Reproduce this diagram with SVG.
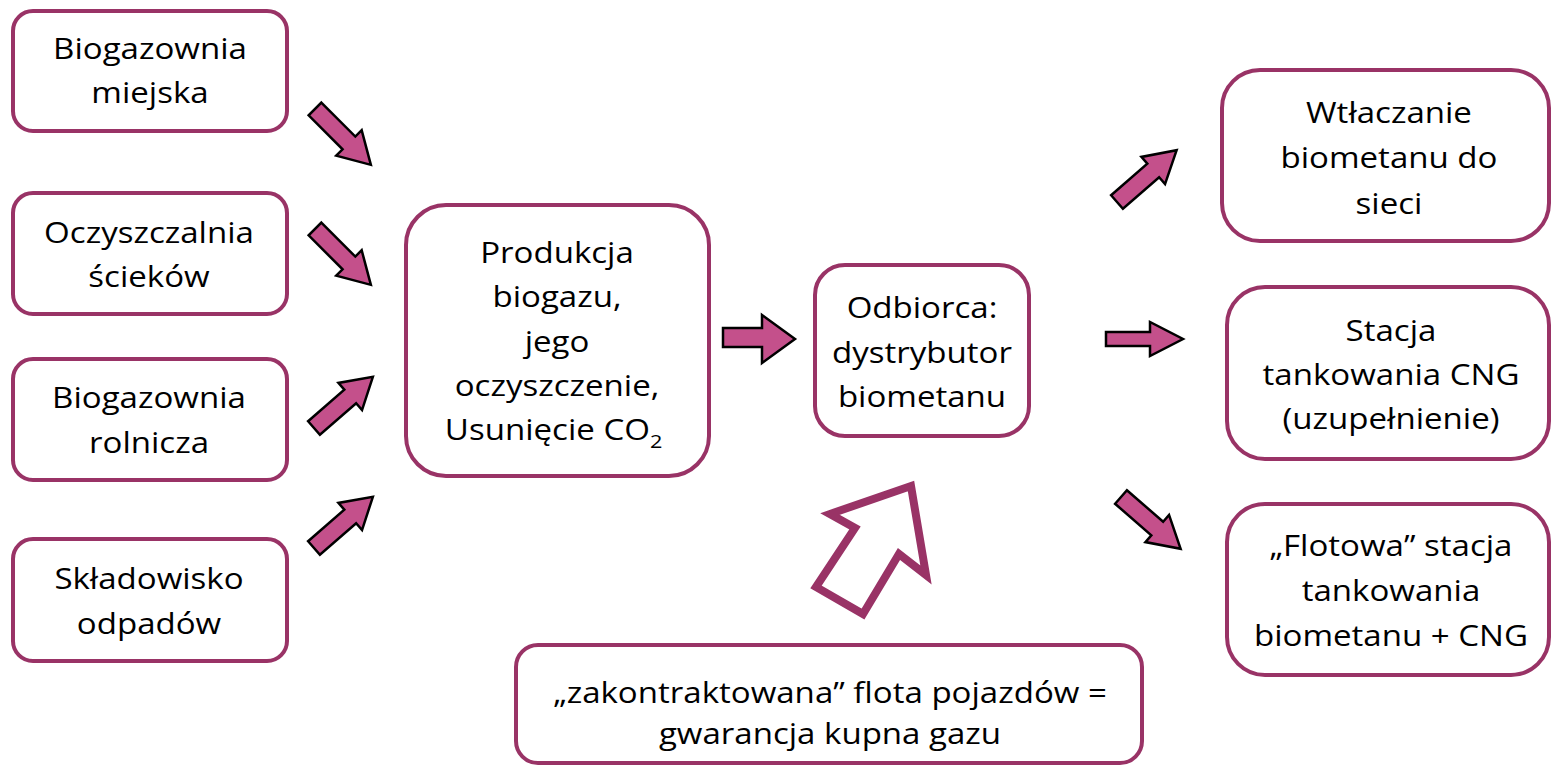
<svg xmlns="http://www.w3.org/2000/svg" width="1552" height="766" viewBox="0 0 1552 766">
<style>
.box{fill:#fff;stroke:#993366;stroke-width:4}
.t{font-family:"Open Sans","Liberation Sans",sans-serif;font-size:29px;fill:#000;text-anchor:middle}
.arr{fill:#C4508B;stroke:#000;stroke-width:2.5;stroke-linejoin:miter}
.hollow{fill:#fff;stroke:#993366;stroke-width:8;stroke-linejoin:miter}
</style>
<rect width="1552" height="766" fill="#fff"/>
<g id="n1"><rect class="box" x="13" y="11" width="274" height="120" rx="20"/>
<g transform="translate(150,0) scale(1.14,1)"><text class="t" x="0" y="59">Biogazownia</text><text class="t" x="0" y="103">miejska</text></g></g>
<g id="n2"><rect class="box" x="13" y="193" width="274" height="121" rx="20"/>
<g transform="translate(149,0) scale(1.14,1)"><text class="t" x="0" y="243">Oczyszczalnia</text><text class="t" x="0" y="287">ścieków</text></g></g>
<g id="n3"><rect class="box" x="13" y="359" width="274" height="121" rx="20"/>
<g transform="translate(149,0) scale(1.14,1)"><text class="t" x="0" y="408">Biogazownia</text><text class="t" x="0" y="453">rolnicza</text></g></g>
<g id="n4"><rect class="box" x="13" y="539" width="274" height="122" rx="20"/>
<g transform="translate(149,0) scale(1.14,1)"><text class="t" x="0" y="589">Składowisko</text><text class="t" x="0" y="634">odpadów</text></g></g>
<g id="n5"><rect class="box" x="406" y="205" width="303" height="271" rx="40"/>
<g transform="translate(557,0) scale(1.14,1)"><text class="t" x="0" y="263">Produkcja</text><text class="t" x="0" y="307">biogazu,</text><text class="t" x="0" y="352">jego</text><text class="t" x="0" y="396">oczyszczenie,</text><text class="t" x="-3" y="440">Usunięcie CO<tspan font-size="19" dy="8">2</tspan></text></g></g>
<g id="n6"><rect class="box" x="815" y="265" width="214" height="171" rx="30"/>
<g transform="translate(922,0) scale(1.14,1)"><text class="t" x="0" y="318">Odbiorca:</text><text class="t" x="0" y="363">dystrybutor</text><text class="t" x="0" y="407">biometanu</text></g></g>
<g id="n7"><rect class="box" x="1222" y="70" width="327" height="171" rx="38"/>
<g transform="translate(1389,0) scale(1.14,1)"><text class="t" x="0" y="123">Wtłaczanie</text><text class="t" x="0" y="168">biometanu do</text><text class="t" x="0" y="214">sieci</text></g></g>
<g id="n8"><rect class="box" x="1227" y="287" width="322" height="172" rx="38"/>
<g transform="translate(1391,0) scale(1.14,1)"><text class="t" x="0" y="341">Stacja</text><text class="t" x="0" y="385">tankowania CNG</text><text class="t" x="0" y="429">(uzupełnienie)</text></g></g>
<g id="n9"><rect class="box" x="1227" y="504" width="322" height="171" rx="38"/>
<g transform="translate(1391,0) scale(1.14,1)"><text class="t" x="0" y="556">„Flotowa” stacja</text><text class="t" x="0" y="601">tankowania</text><text class="t" x="0" y="646">biometanu + CNG</text></g></g>
<g id="n10"><rect class="box" x="516" y="645" width="626" height="118" rx="22"/>
<g transform="translate(830,0) scale(1.14,1)"><text class="t" x="0" y="703">„zakontraktowana” flota pojazdów =</text><text class="t" x="0" y="744">gwarancja kupna gazu</text></g></g>
<g id="connectors">
<polygon class="arr" transform="translate(315,109) rotate(45)" points="0,-9 48,-9 48,-18 79,0 48,18 48,9 0,9"/>
<polygon class="arr" transform="translate(315,229) rotate(45)" points="0,-9 48,-9 48,-18 79,0 48,18 48,9 0,9"/>
<polygon class="arr" transform="translate(314,428) rotate(-41)" points="0,-9 48,-9 48,-18 78,0 48,18 48,9 0,9"/>
<polygon class="arr" transform="translate(314,548) rotate(-41)" points="0,-9 48,-9 48,-18 78,0 48,18 48,9 0,9"/>
<polygon class="arr" points="723,328 762,328 762,315 795,339 762,363 762,347 723,347"/>
<polygon class="arr" points="1106,332 1150,332 1150,322 1183,339 1150,356 1150,346 1106,346"/>
<polygon class="arr" transform="translate(1117,202) rotate(-41)" points="0,-9 48,-9 48,-18 79,0 48,18 48,9 0,9"/>
<polygon class="arr" transform="translate(1121,497) rotate(41)" points="0,-9 48,-9 48,-18 79,0 48,18 48,9 0,9"/>
<polygon class="hollow" points="911,486 926,575 899,554 863,614 816,587 855,528 830,514"/>
</g>
</svg>
